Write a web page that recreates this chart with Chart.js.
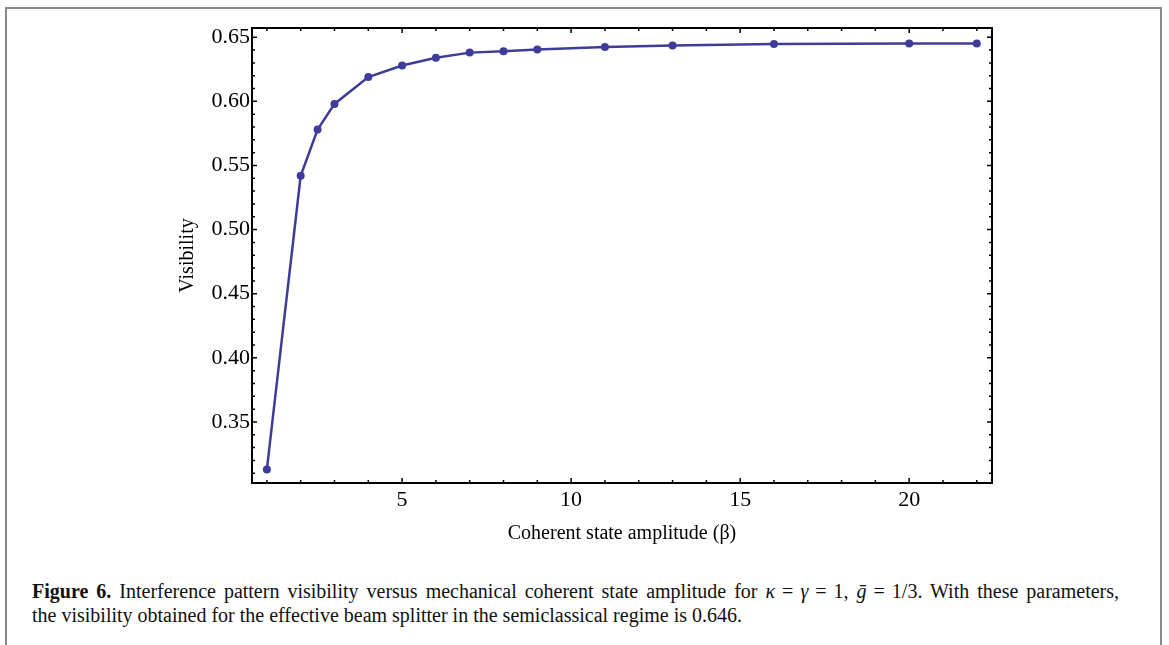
<!DOCTYPE html>
<html lang="en">
<head>
    <meta charset="UTF-8">
    <title>Figure 6 - Visibility</title>
    <script src="https://cdn.jsdelivr.net/npm/chart.js"></script>
    <style>
        html, body { margin: 0; padding: 0; background: #fff; }
        body { width: 1169px; height: 645px; position: relative; overflow: hidden; }
        .frame {
            position: absolute; left: 5px; top: 7px; width: 1153px; height: 700px;
            border: 2px solid #8a8a8a; border-bottom: none;
        }
        #chartBox { position: absolute; left: 0; top: 0; width: 1169px; height: 560px; }
        .caption {
            position: absolute; left: 32px; top: 579px; width: 1120px;
            font-family: "Liberation Serif", "DejaVu Serif", serif;
            font-size: 20px; line-height: 24px; color: #111; white-space: nowrap;
        }
        .caption b { font-weight: bold; }
        .caption i { font-style: italic; }
        .caption .eq { margin: 0 7px; }
        .caption .first { word-spacing: 3px; }
    </style>
</head>
<body>
    <div class="frame"></div>
    <div id="chartBox"><canvas id="visChart" width="1169" height="560"></canvas></div>
    <div class="caption">
        <span class="first"><b>Figure 6.</b> Interference pattern visibility versus mechanical coherent state amplitude for <i>κ</i><span class="eq">=</span><i>γ</i><span class="eq">=</span>1, <i>ḡ</i><span class="eq">=</span>1/3. With these parameters,</span><br>
        the visibility obtained for the effective beam splitter in the semiclassical regime is 0.646.
    </div>

    <script>
        // data
        const beta = [1, 2, 2.5, 3, 4, 5, 6, 7, 8, 9, 11, 13, 16, 20, 22];
        const visibility = [0.313, 0.542, 0.578, 0.598, 0.619, 0.628, 0.634, 0.638, 0.639, 0.6405, 0.6424, 0.6436, 0.6447, 0.6451, 0.6451];
        const xTicks = [5, 10, 15, 20];
        const yTicks = [0.35, 0.40, 0.45, 0.50, 0.55, 0.60, 0.65];

        const serif = '"Liberation Serif", "DejaVu Serif", serif';
        const lineColor = 'rgb(61, 61, 153)';

        // black frame with inward ticks on all four sides
        const framePlugin = {
            id: 'frameTicks',
            afterDraw(chart) {
                const { ctx, chartArea: a, scales: { x, y } } = chart;
                ctx.save();
                ctx.strokeStyle = '#000';
                ctx.lineWidth = 1.5;
                ctx.beginPath();
                for (let v = 1; v <= 22; v++) {
                    const px = x.getPixelForValue(v);
                    const len = v % 5 === 0 ? 5 : 3;
                    ctx.moveTo(px, a.bottom); ctx.lineTo(px, a.bottom - len);
                    ctx.moveTo(px, a.top); ctx.lineTo(px, a.top + len);
                }
                for (let k = 31; k <= 65; k++) {
                    const py = y.getPixelForValue(k / 100);
                    const len = k % 5 === 0 ? 5 : 3;
                    ctx.moveTo(a.left, py); ctx.lineTo(a.left + len, py);
                    ctx.moveTo(a.right, py); ctx.lineTo(a.right - len, py);
                }
                ctx.stroke();
                ctx.lineWidth = 2;
                ctx.strokeRect(a.left, a.top, a.right - a.left, a.bottom - a.top);
                ctx.restore();
            }
        };

        new Chart(document.getElementById('visChart'), {
            type: 'line',
            data: {
                datasets: [{
                    label: 'Visibility',
                    data: beta.map((b, i) => ({ x: b, y: visibility[i] })),
                    borderColor: lineColor,
                    backgroundColor: lineColor,
                    borderWidth: 2.5,
                    pointRadius: 4,
                    pointBorderWidth: 0,
                    tension: 0
                }]
            },
            options: {
                responsive: false,
                animation: false,
                layout: { padding: { left: 172, top: 28, right: 177, bottom: 10 } },
                plugins: { legend: { display: false }, tooltip: { enabled: false } },
                scales: {
                    x: {
                        type: 'linear',
                        min: 0.56,
                        max: 22.45,
                        grid: { display: false, drawTicks: false },
                        border: { display: false },
                        afterBuildTicks: s => { s.ticks = xTicks.map(v => ({ value: v })); },
                        afterFit: s => { s.height = 67; },
                        ticks: { color: '#000', padding: 4, font: { family: serif, size: 22 } },
                        title: {
                            display: true,
                            text: 'Coherent state amplitude (β)',
                            color: '#000',
                            font: { family: serif, size: 20 }
                        }
                    },
                    y: {
                        type: 'linear',
                        min: 0.3024,
                        max: 0.6572,
                        grid: { display: false, drawTicks: false },
                        border: { display: false },
                        afterBuildTicks: s => { s.ticks = yTicks.map(v => ({ value: v })); },
                        afterFit: s => { s.width = 80; },
                        ticks: {
                            color: '#000', padding: 2,
                            font: { family: serif, size: 22 },
                            callback: v => v.toFixed(2)
                        },
                        title: {
                            display: true,
                            text: 'Visibility',
                            color: '#000',
                            font: { family: serif, size: 20 }
                        }
                    }
                }
            },
            plugins: [framePlugin]
        });
    </script>
</body>
</html>
